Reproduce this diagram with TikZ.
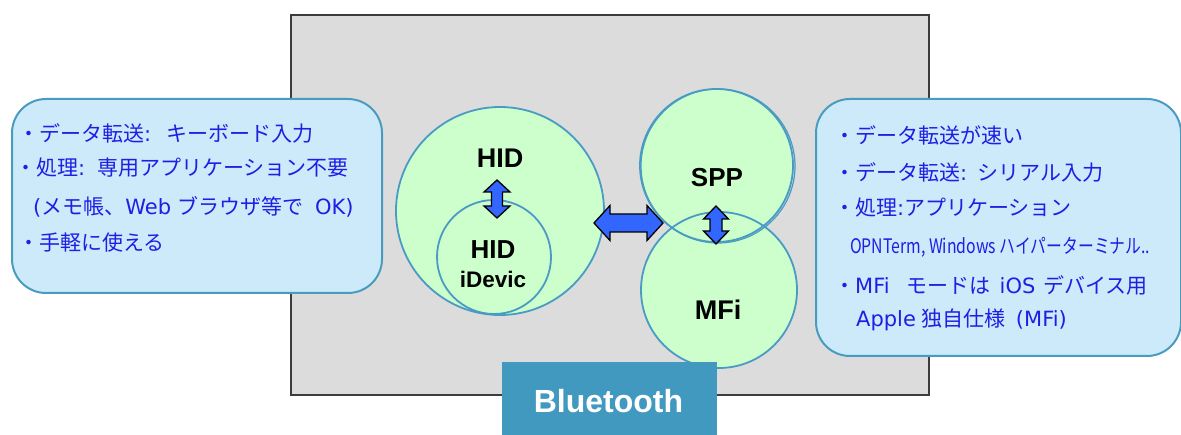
\documentclass[tikz,border=0pt]{standalone}
\usepackage{fontspec}
\usepackage{graphicx}
\setmainfont{Liberation Sans}
\newfontfamily\jpfont{Noto Sans CJK JP}
\newfontfamily\latfont{DejaVu Sans}
\newcommand\lt[1]{{\latfont #1}}

\definecolor{stagefill}{RGB}{220,220,220}
\definecolor{stageline}{RGB}{60,60,60}
\definecolor{panelfill}{RGB}{204,234,250}
\definecolor{panelline}{RGB}{74,155,192}
\definecolor{ringfill}{RGB}{204,255,204}
\definecolor{ringline}{RGB}{74,155,196}
\definecolor{notetext}{RGB}{30,30,228}
\definecolor{arrowfill}{RGB}{51,102,255}
\definecolor{tagfill}{RGB}{66,153,191}

% double-headed block arrow: x, y, angle, half length, head length, head half width, shaft half width
\newcommand\blockarrow[7]{%
  \filldraw[arrowbody, shift={(#1,#2)}, rotate=#3]
    (-#4,0) -- (-#4+#5,#6) -- (-#4+#5,#7) -- (#4-#5,#7) -- (#4-#5,#6) -- (#4,0)
    -- (#4-#5,-#6) -- (#4-#5,-#7) -- (-#4+#5,-#7) -- (-#4+#5,-#6) -- cycle;}

\begin{document}
\begin{tikzpicture}[x=1pt,y=-1pt,
  panel/.style={draw=panelline, line width=2pt, fill=panelfill, rounded corners=34pt,
    anchor=north west, inner sep=0},
  disc/.style={circle, fill=ringfill, inner sep=0},
  ring/.style={draw=ringline, line width=1.8pt},
  note/.style={anchor=west, inner sep=0, text=notetext,
    font=\jpfont\fontsize{21}{24}\selectfont},
  tag/.style={inner sep=0, font=\bfseries\fontsize{#1}{#1}\selectfont},
  arrowbody/.style={fill=arrowfill, draw=black, line width=1.3pt, line join=miter}]
\useasboundingbox (0,0) rectangle (1181,435);

% stage
\node[draw=stageline, line width=2pt, fill=stagefill, anchor=north west, inner sep=0,
  minimum width=638pt, minimum height=380pt] (stage) at (290,14) {};

% HID rings
\node[disc, minimum size=208pt] (hid) at (500,211) {};
\draw[ring] (hid.center) circle[radius=104];
\node[disc, minimum size=114pt] (idev) at (494,257) {};
\draw[ring] (idev.center) circle[radius=57];

% SPP / MFi rings
\node[disc, minimum size=154pt] (spp) at (716.5,165.5) {};
\node[disc, minimum size=156pt] (mfi) at (719,290) {};
\draw[ring] (spp.center) circle[radius=76.5];
\draw[ring, line width=1.2pt] (718,166) circle[radius=77];
\draw[ring] (mfi.center) circle[radius=78];

% ring labels
\node[tag=27] (hidlbl) at (500,158) {HID};
\node[tag=26] (idevlbl) at (493,250) {HID};
\node[tag=22.5] (idevsub) at (493,279) {iDevic};
\node[tag=26] (spplbl) at (717,178) {SPP};
\node[tag=27] (mfilbl) at (718,310) {MFi};

% arrows
\blockarrow{497}{199}{90}{19}{12}{13}{5.5}
\blockarrow{628.5}{223}{0}{34.5}{16}{17.5}{9}
\blockarrow{716}{225}{90}{19}{13}{12.5}{6}

% left notes
\node[panel, minimum width=370pt, minimum height=194pt] (hidnote) at (11,98) {};
\node[note] (h1) at (18,133) {・データ転送\lt{:}\hspace{15pt}キーボード入力};
\node[note] (h2) at (15,168) {・処理\lt{:}\hspace{12pt}専用アプリケーション不要};
\node[note] (h3) at (33,207) {\lt{(}メモ帳、\lt{Web}\hspace{6pt}ブラウザ等で\hspace{12pt}\lt{OK)}};
\node[note] (h4) at (18,243) {・手軽に使える};

% right notes
\node[panel, minimum width=365pt, minimum height=257pt] (sppnote) at (815,98) {};
\node[note] (s1) at (834,135) {・データ転送が速い};
\node[note] (s2) at (834,172) {・データ転送\lt{:}\hspace{10pt}シリアル入力};
\node[note] (s3) at (834,208) {・処理\lt{:}アプリケーション};
\node[note] (s4) at (850,247) {\resizebox{300pt}{\height}{\jpfont\fontsize{20}{22}\selectfont OPNTerm, Windows ハイパーターミナル..}};
\node[note] (s5) at (834,285) {・\lt{MFi}\hspace{17pt}モードは\hspace{9pt}\lt{iOS}\hspace{8pt}デバイス用};
\node[note] (s6) at (856,320) {\lt{Apple}\hspace{6pt}独自仕様\hspace{10pt}\lt{(MFi)}};

% caption
\node[fill=tagfill, anchor=north west, inner sep=0, minimum width=215pt, minimum height=75pt]
  (btbox) at (502,362) {};
\node[tag=32, text=white] (btlbl) at (608.5,401.5) {Bluetooth};
\end{tikzpicture}
\end{document}
